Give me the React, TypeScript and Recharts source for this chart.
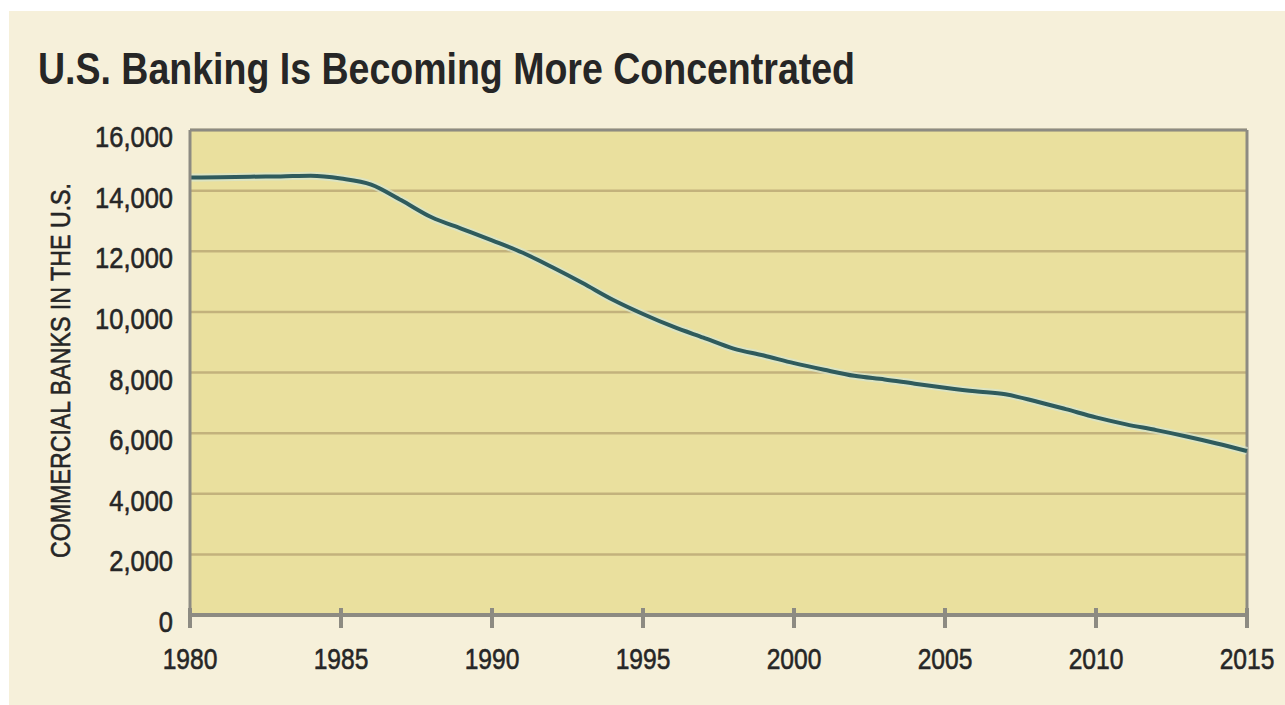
import { LineChart, Line, XAxis, YAxis, CartesianGrid, ReferenceLine, Label } from "recharts";

// Commercial banks in the U.S., year-end counts
const years = [
  1980, 1981, 1982, 1983, 1984, 1985, 1986, 1987, 1988, 1989, 1990, 1991,
  1992, 1993, 1994, 1995, 1996, 1997, 1998, 1999, 2000, 2001, 2002, 2003,
  2004, 2005, 2006, 2007, 2008, 2009, 2010, 2011, 2012, 2013, 2014, 2015,
];
const bankCounts = [
  14430, 14440, 14460, 14470, 14490, 14400, 14200, 13680, 13120, 12740, 12360, 11960,
  11470, 10950, 10400, 9930, 9510, 9150, 8790, 8560, 8310, 8090, 7890, 7770,
  7630, 7500, 7380, 7280, 7050, 6790, 6520, 6290, 6100, 5890, 5660, 5410,
];
const yearTicks = [1980, 1985, 1990, 1995, 2000, 2005, 2010, 2015];
const countTicks = [0, 2000, 4000, 6000, 8000, 10000, 12000, 14000, 16000];

const data = years.map((year, i) => ({ year, banks: bankCounts[i] }));

const FONT = "'Liberation Sans', Arial, sans-serif";
const NARROW = 0.82; // squeeze glyphs horizontally for a condensed look
const INK = "#262626";
const FRAME = "#8d8b82";
const GRID = "#c3b27c";
const PLOT_BG = "#eae09e";
const PANEL = "#f6f0da";
const LINE = "#2f5b5c";

// a hairline outline gives the regular face a bit more weight
const inkStyle = { fill: INK, stroke: INK, strokeWidth: 0.6 };

const YearTick = ({ x, y, payload }: any) => (
  <g>
    <line x1={x} x2={x} y1={y - 7} y2={y + 13} stroke={FRAME} strokeWidth={4} />
    <g transform={`translate(${x}, ${y + 54}) scale(${NARROW}, 1)`}>
      <text x={0} y={0} textAnchor="middle" {...inkStyle} fontFamily={FONT} fontSize={30}>
        {payload.value}
      </text>
    </g>
  </g>
);

const CountTick = ({ x, y, payload }: any) => (
  <g transform={`translate(${x}, ${y + 17}) scale(${NARROW + 0.03}, 1)`}>
    <text x={0} y={0} textAnchor="end" {...inkStyle} fontFamily={FONT} fontSize={30}>
      {Number(payload.value).toLocaleString("en-US")}
    </text>
  </g>
);

export default function App() {
  return (
    <div style={{ position: "absolute", left: 0, top: 0, width: 1285, height: 705, background: "#fff" }}>
      <div style={{ position: "absolute", left: 9, top: 11, right: 0, bottom: 0, background: PANEL }} />
      <div style={{ position: "absolute", left: 0, top: 0 }}>
        <LineChart
          width={1285}
          height={705}
          data={data}
          margin={{ top: 130, right: 38, bottom: 30, left: 20 }}
        >
          <CartesianGrid vertical={false} fill={PLOT_BG} fillOpacity={1} stroke={GRID} strokeWidth={2.5} />
          <XAxis
            dataKey="year"
            type="number"
            domain={[1980, 2015]}
            ticks={yearTicks}
            height={60}
            tickSize={0}
            tickMargin={0}
            tick={<YearTick />}
            axisLine={{ stroke: FRAME, strokeWidth: 4 }}
            interval={0}
          />
          <YAxis
            type="number"
            domain={[0, 16000]}
            ticks={countTicks}
            width={170}
            tickSize={0}
            tickMargin={17}
            tick={<CountTick />}
            axisLine={{ stroke: FRAME, strokeWidth: 3 }}
            interval={0}
          >
            <Label
              content={({ viewBox }: any) => {
                const bx = viewBox.x + 50;
                const cy = viewBox.y + viewBox.height / 2 - 2;
                return (
                  <text
                    x={bx}
                    y={cy}
                    transform={`rotate(-90, ${bx}, ${cy})`}
                    textAnchor="middle"
                    textLength={375}
                    lengthAdjust="spacingAndGlyphs"
                    {...inkStyle}
                    fontFamily={FONT}
                    fontSize={28}
                  >
                    COMMERCIAL BANKS IN THE U.S.
                  </text>
                );
              }}
            />
          </YAxis>
          <ReferenceLine y={16000} stroke={FRAME} strokeWidth={3} />
          <ReferenceLine x={2015} stroke={FRAME} strokeWidth={3} />
          <Line
            dataKey="banks"
            type="monotone"
            stroke="#d6e6d2"
            strokeOpacity={0.7}
            strokeWidth={8}
            dot={false}
            activeDot={false}
            isAnimationActive={false}
          />
          <Line
            dataKey="banks"
            type="monotone"
            stroke={LINE}
            strokeWidth={4}
            dot={false}
            activeDot={false}
            isAnimationActive={false}
          />
        </LineChart>
      </div>
      <svg width={1285} height={110} style={{ position: "absolute", left: 0, top: 0 }}>
        <text
          x={38}
          y={84}
          textLength={817}
          lengthAdjust="spacingAndGlyphs"
          fill={INK}
          fontFamily={FONT}
          fontSize={45}
          fontWeight="bold"
        >
          U.S. Banking Is Becoming More Concentrated
        </text>
      </svg>
    </div>
  );
}
